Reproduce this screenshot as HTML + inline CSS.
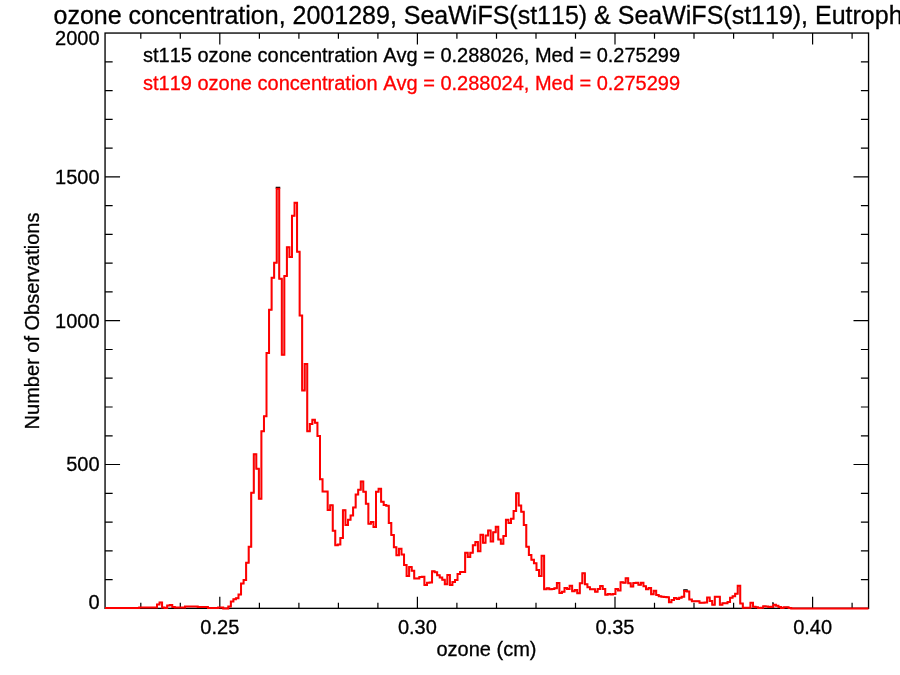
<!DOCTYPE html>
<html lang="en"><head><meta charset="utf-8"><title>ozone concentration histogram</title>
<style>
html,body{margin:0;padding:0;background:#fff;}
body{width:900px;height:675px;overflow:hidden;}
svg{display:block;will-change:transform;}
text{font-family:"Liberation Sans","Helvetica","Arial",sans-serif;fill:#000;font-kerning:none;stroke:#000;stroke-width:0.3px;}
.lab{font-size:20px;}
.ttl{font-size:25px;}
.ax{stroke:#000;stroke-width:1.35;fill:none;stroke-linecap:square;}
.tk{stroke:#000;stroke-width:1.2;fill:none;}
.h1{stroke:#000;stroke-width:0.9;fill:none;stroke-linejoin:miter;}
.h2{stroke:#f00;stroke-width:2.0;fill:none;stroke-linejoin:miter;}
</style></head><body>
<svg width="900" height="675" viewBox="0 0 900 675">
<rect x="0" y="0" width="900" height="675" fill="#fff"/>
<text class="ttl" x="53.5" y="23.5">ozone concentration, 2001289, SeaWiFS(st115) &amp; SeaWiFS(st119), Eutroph</text>
<rect class="ax" x="105.05" y="33.05" width="763.5" height="575.3"/>
<path class="tk" d="M140.8 608.35v-5.7M140.8 33.05v5.7M180.3 608.35v-5.7M180.3 33.05v5.7M219.8 608.35v-11.5M219.8 33.05v11.5M259.4 608.35v-5.7M259.4 33.05v5.7M298.9 608.35v-5.7M298.9 33.05v5.7M338.4 608.35v-5.7M338.4 33.05v5.7M377.9 608.35v-5.7M377.9 33.05v5.7M417.4 608.35v-11.5M417.4 33.05v11.5M456.9 608.35v-5.7M456.9 33.05v5.7M496.5 608.35v-5.7M496.5 33.05v5.7M536.0 608.35v-5.7M536.0 33.05v5.7M575.5 608.35v-5.7M575.5 33.05v5.7M615.0 608.35v-11.5M615.0 33.05v11.5M654.5 608.35v-5.7M654.5 33.05v5.7M694.0 608.35v-5.7M694.0 33.05v5.7M733.6 608.35v-5.7M733.6 33.05v5.7M773.1 608.35v-5.7M773.1 33.05v5.7M812.6 608.35v-11.5M812.6 33.05v11.5M852.1 608.35v-5.7M852.1 33.05v5.7M105.05 579.6h7.6M868.5 579.6h-7.6M105.05 550.8h7.6M868.5 550.8h-7.6M105.05 522.1h7.6M868.5 522.1h-7.6M105.05 493.3h7.6M868.5 493.3h-7.6M105.05 464.5h15.0M868.5 464.5h-15.0M105.05 435.8h7.6M868.5 435.8h-7.6M105.05 407.0h7.6M868.5 407.0h-7.6M105.05 378.2h7.6M868.5 378.2h-7.6M105.05 349.5h7.6M868.5 349.5h-7.6M105.05 320.7h15.0M868.5 320.7h-15.0M105.05 291.9h7.6M868.5 291.9h-7.6M105.05 263.2h7.6M868.5 263.2h-7.6M105.05 234.4h7.6M868.5 234.4h-7.6M105.05 205.6h7.6M868.5 205.6h-7.6M105.05 176.9h15.0M868.5 176.9h-15.0M105.05 148.1h7.6M868.5 148.1h-7.6M105.05 119.3h7.6M868.5 119.3h-7.6M105.05 90.6h7.6M868.5 90.6h-7.6M105.05 61.8h7.6M868.5 61.8h-7.6"/>
<text class="lab" text-anchor="middle" x="219.8" y="633.9">0.25</text>
<text class="lab" text-anchor="middle" x="417.4" y="633.9">0.30</text>
<text class="lab" text-anchor="middle" x="615.0" y="633.9">0.35</text>
<text class="lab" text-anchor="middle" x="812.6" y="633.9">0.40</text>
<text class="lab" text-anchor="end" x="99.6" y="608.8">0</text>
<text class="lab" text-anchor="end" x="99.6" y="471.3">500</text>
<text class="lab" text-anchor="end" x="99.6" y="327.5">1000</text>
<text class="lab" text-anchor="end" x="99.6" y="183.7">1500</text>
<text class="lab" text-anchor="end" x="99.6" y="45.2">2000</text>
<text class="lab" text-anchor="middle" x="486.5" y="655.8">ozone (cm)</text>
<text class="lab" text-anchor="middle" transform="translate(38.8 321.0) rotate(-90)">Number of Observations</text>
<text class="lab" x="143.0" y="62.4">st115 ozone concentration Avg = 0.288026, Med = 0.275299</text>
<text class="lab" x="143.0" y="90.3" style="fill:#f00;stroke:#f00">st119 ozone concentration Avg = 0.288024, Med = 0.275299</text>
<path class="h1" d="M105.05 608.0H106.05V608.0H108.59V608.0H111.14V608.0H113.69V608.0H116.23V608.0H118.78V608.0H121.33V608.0H123.88V608.0H126.42V608.0H128.97V608.0H131.52V608.0H134.06V608.0H136.61V608.0H139.16V607.6H141.71V607.6H144.25V607.6H146.80V607.6H149.35V607.6H151.89V607.6H154.44V607.6H156.99V604.4H159.53V602.4H162.08V607.4H164.63V608.0H167.18V605.6H169.72V605.0H172.27V607.0H174.82V607.6H177.36V607.6H179.91V607.6H182.46V607.6H185.00V606.5H187.55V606.5H190.10V606.5H192.65V606.5H195.19V606.5H197.74V607.0H200.29V607.0H202.83V607.0H205.38V607.0H207.93V608.1H210.47V608.1H213.02V608.1H215.57V608.1H218.12V607.6H220.66V607.6H223.21V608.4H225.76V608.4H228.30V606.6H230.85V601.5H233.40V599.2H235.94V598.2H238.49V594.6H241.04V583.6H243.59V580.0H246.13V562.7H248.68V546.7H251.23V492.7H253.77V454.3H256.32V468.7H258.87V498.7H261.41V431.3H263.96V416.3H266.51V353.0H269.06V309.7H271.60V277.7H274.15V262.7H276.70V187.8H279.24V278.7H281.79V354.7H284.34V276.0H286.88V247.3H289.43V257.0H291.98V215.8H294.52V202.8H297.07V251.7H299.62V315.6H302.17V390.4H304.71V364.0H307.26V431.3H309.81V424.0H312.35V419.7H314.90V422.7H317.45V436.0H320.00V479.3H322.54V491.6H325.09V491.6H327.64V510.0H330.18V505.3H332.73V530.7H335.28V545.3H337.82V544.5H340.37V538.0H342.92V510.2H345.47V525.0H348.01V519.7H350.56V515.4H353.11V507.4H355.65V494.6H358.20V489.7H360.75V481.4H363.29V491.7H365.84V503.7H368.39V523.7H370.94V522.0H373.48V527.0H376.03V491.7H378.58V488.7H381.12V501.7H383.67V505.0H386.22V505.7H388.76V523.0H391.31V535.0H393.86V547.2H396.41V555.3H398.95V548.7H401.50V554.6H404.05V565.1H406.59V576.0H409.14V566.9H411.69V570.7H414.23V578.4H416.78V578.4H419.33V577.1H421.88V576.7H424.42V585.1H426.97V582.7H429.52V582.4H432.06V571.3H434.61V572.3H437.16V575.3H439.70V577.6H442.25V579.7H444.80V584.3H447.35V574.9H449.89V585.1H452.44V582.0H454.99V580.0H457.53V574.0H460.08V572.0H462.63V572.0H465.17V552.7H467.72V557.1H470.27V552.7H472.81V545.3H475.36V542.0H477.91V551.3H480.46V534.7H483.00V542.8H485.55V535.5H488.10V530.4H490.64V541.5H493.19V532.3H495.74V526.8H498.29V539.6H500.83V543.7H503.38V536.0H505.93V519.7H508.47V522.9H511.02V518.7H513.57V510.9H516.11V493.3H518.66V505.6H521.21V511.7H523.76V525.1H526.30V546.7H528.85V554.9H531.40V559.7H533.94V563.3H536.49V570.0H539.04V576.0H541.58V555.7H544.13V589.3H546.68V588.3H549.23V589.3H551.77V589.0H554.32V588.3H556.87V583.0H559.41V593.0H561.96V591.7H564.51V588.0H567.05V589.0H569.60V585.7H572.15V591.3H574.70V590.0H577.24V593.3H579.79V583.3H582.34V573.3H584.88V584.3H587.43V587.2H589.98V589.3H592.52V589.3H595.07V591.7H597.62V588.9H600.16V586.1H602.71V588.9H605.26V594.7H607.81V593.9H610.35V594.4H612.90V593.9H615.45V589.1H617.99V590.5H620.54V582.2H623.09V582.8H625.63V578.3H628.18V583.3H630.73V586.6H633.28V583.0H635.82V582.7H638.37V584.8H640.92V582.7H643.46V586.3H646.01V589.3H648.56V588.0H651.11V594.3H653.65V590.7H656.20V595.0H658.75V596.3H661.29V596.7H663.84V597.0H666.39V597.2H668.93V602.3H671.48V600.0H674.03V598.0H676.58V599.0H679.12V597.7H681.67V596.7H684.22V590.3H686.76V591.4H689.31V599.5H691.86V601.3H694.40V601.2H696.95V601.2H699.50V602.8H702.05V602.7H704.59V602.5H707.14V597.5H709.69V601.0H712.23V604.7H714.78V596.7H717.33V596.7H719.87V604.7H722.42V603.2H724.97V603.3H727.51V601.9H730.06V597.7H732.61V596.3H735.16V593.7H737.70V585.7H740.25V603.5H742.80V607.7H745.34V607.7H747.89V607.7H750.44V602.7H752.99V606.7H755.53V607.3H758.08V607.9H760.63V607.7H763.17V606.3H765.72V606.5H768.27V607.0H770.81V606.7H773.36V604.7H775.91V605.7H778.46V607.0H781.00V608.0H783.55V607.3H786.10V607.2H788.64V608.1H791.19V608.4H793.74V608.4H796.28V608.4H798.83V608.4H801.38V608.4H803.93V608.4H806.47V608.4H809.02V608.4H811.57V608.4H814.11V608.4H816.66V608.4H819.21V608.4H821.75V608.4H824.30V608.4H826.85V608.4H829.40V608.4H831.94V608.4H834.49V608.4H837.04V608.4H839.58V608.4H842.13V608.4H844.68V608.4H847.22V608.4H849.77V608.4H852.32V608.4H854.87V608.4H857.41V608.4H859.96V608.4H862.51V608.4H865.05V608.4H867.60H868.5"/>
<path class="h1" style="stroke-width:2" d="M275.70 187.8H280.24M683.22 590.3H687.76"/>
<path class="h2" d="M105.05 608.0H106.05V608.0H108.59V608.0H111.14V608.0H113.69V608.0H116.23V608.0H118.78V608.0H121.33V608.0H123.88V608.0H126.42V608.0H128.97V608.0H131.52V608.0H134.06V608.0H136.61V608.0H139.16V607.6H141.71V607.6H144.25V607.6H146.80V607.6H149.35V607.6H151.89V607.6H154.44V607.6H156.99V604.4H159.53V602.4H162.08V607.4H164.63V608.0H167.18V605.6H169.72V605.0H172.27V607.0H174.82V607.6H177.36V607.6H179.91V607.6H182.46V607.6H185.00V606.5H187.55V606.5H190.10V606.5H192.65V606.5H195.19V606.5H197.74V607.0H200.29V607.0H202.83V607.0H205.38V607.0H207.93V608.1H210.47V608.1H213.02V608.1H215.57V608.1H218.12V607.6H220.66V607.6H223.21V608.4H225.76V608.4H228.30V606.6H230.85V601.5H233.40V599.2H235.94V598.2H238.49V594.6H241.04V583.6H243.59V580.0H246.13V562.7H248.68V546.7H251.23V492.7H253.77V454.3H256.32V468.7H258.87V498.7H261.41V431.3H263.96V416.3H266.51V353.0H269.06V309.7H271.60V277.7H274.15V262.7H276.70V188.8H279.24V278.7H281.79V354.7H284.34V276.0H286.88V247.3H289.43V257.0H291.98V215.8H294.52V202.8H297.07V251.7H299.62V315.6H302.17V390.4H304.71V364.0H307.26V431.3H309.81V424.0H312.35V419.7H314.90V422.7H317.45V436.0H320.00V479.3H322.54V491.6H325.09V491.6H327.64V510.0H330.18V505.3H332.73V530.7H335.28V545.3H337.82V544.5H340.37V538.0H342.92V510.2H345.47V525.0H348.01V519.7H350.56V515.4H353.11V507.4H355.65V494.6H358.20V489.7H360.75V481.4H363.29V491.7H365.84V503.7H368.39V523.7H370.94V522.0H373.48V527.0H376.03V491.7H378.58V488.7H381.12V501.7H383.67V505.0H386.22V505.7H388.76V523.0H391.31V535.0H393.86V547.2H396.41V555.3H398.95V548.7H401.50V554.6H404.05V565.1H406.59V576.0H409.14V566.9H411.69V570.7H414.23V578.4H416.78V578.4H419.33V577.1H421.88V576.7H424.42V585.1H426.97V582.7H429.52V582.4H432.06V571.3H434.61V572.3H437.16V575.3H439.70V577.6H442.25V579.7H444.80V584.3H447.35V574.9H449.89V585.1H452.44V582.0H454.99V580.0H457.53V574.0H460.08V572.0H462.63V572.0H465.17V552.7H467.72V557.1H470.27V552.7H472.81V545.3H475.36V542.0H477.91V551.3H480.46V534.7H483.00V542.8H485.55V535.5H488.10V530.4H490.64V541.5H493.19V532.3H495.74V526.8H498.29V539.6H500.83V543.7H503.38V536.0H505.93V519.7H508.47V522.9H511.02V518.7H513.57V510.9H516.11V493.3H518.66V505.6H521.21V511.7H523.76V525.1H526.30V546.7H528.85V554.9H531.40V559.7H533.94V563.3H536.49V570.0H539.04V576.0H541.58V555.7H544.13V589.3H546.68V588.3H549.23V589.3H551.77V589.0H554.32V588.3H556.87V583.0H559.41V593.0H561.96V591.7H564.51V588.0H567.05V589.0H569.60V585.7H572.15V591.3H574.70V590.0H577.24V593.3H579.79V583.3H582.34V573.3H584.88V584.3H587.43V587.2H589.98V589.3H592.52V589.3H595.07V591.7H597.62V588.9H600.16V586.1H602.71V588.9H605.26V594.7H607.81V593.9H610.35V594.4H612.90V593.9H615.45V589.1H617.99V590.5H620.54V582.2H623.09V582.8H625.63V578.3H628.18V583.3H630.73V586.6H633.28V583.0H635.82V582.7H638.37V584.8H640.92V582.7H643.46V586.3H646.01V589.3H648.56V588.0H651.11V594.3H653.65V590.7H656.20V595.0H658.75V596.3H661.29V596.7H663.84V597.0H666.39V597.2H668.93V602.3H671.48V600.0H674.03V598.0H676.58V599.0H679.12V597.7H681.67V596.7H684.22V590.9H686.76V591.4H689.31V599.5H691.86V601.3H694.40V601.2H696.95V601.2H699.50V602.8H702.05V602.7H704.59V602.5H707.14V597.5H709.69V601.0H712.23V604.7H714.78V596.7H717.33V596.7H719.87V604.7H722.42V603.2H724.97V603.3H727.51V601.9H730.06V597.7H732.61V596.3H735.16V593.7H737.70V585.7H740.25V603.5H742.80V607.7H745.34V607.7H747.89V607.7H750.44V602.7H752.99V606.7H755.53V607.3H758.08V607.9H760.63V607.7H763.17V606.3H765.72V606.5H768.27V607.0H770.81V606.7H773.36V604.7H775.91V605.7H778.46V607.0H781.00V608.0H783.55V607.3H786.10V607.2H788.64V608.1H791.19V608.4H793.74V608.4H796.28V608.4H798.83V608.4H801.38V608.4H803.93V608.4H806.47V608.4H809.02V608.4H811.57V608.4H814.11V608.4H816.66V608.4H819.21V608.4H821.75V608.4H824.30V608.4H826.85V608.4H829.40V608.4H831.94V608.4H834.49V608.4H837.04V608.4H839.58V608.4H842.13V608.4H844.68V608.4H847.22V608.4H849.77V608.4H852.32V608.4H854.87V608.4H857.41V608.4H859.96V608.4H862.51V608.4H865.05V608.4H867.60H868.5"/>
<rect x="772.1" y="602.3" width="1.5" height="1.3" fill="#111"/>
</svg>
</body></html>
